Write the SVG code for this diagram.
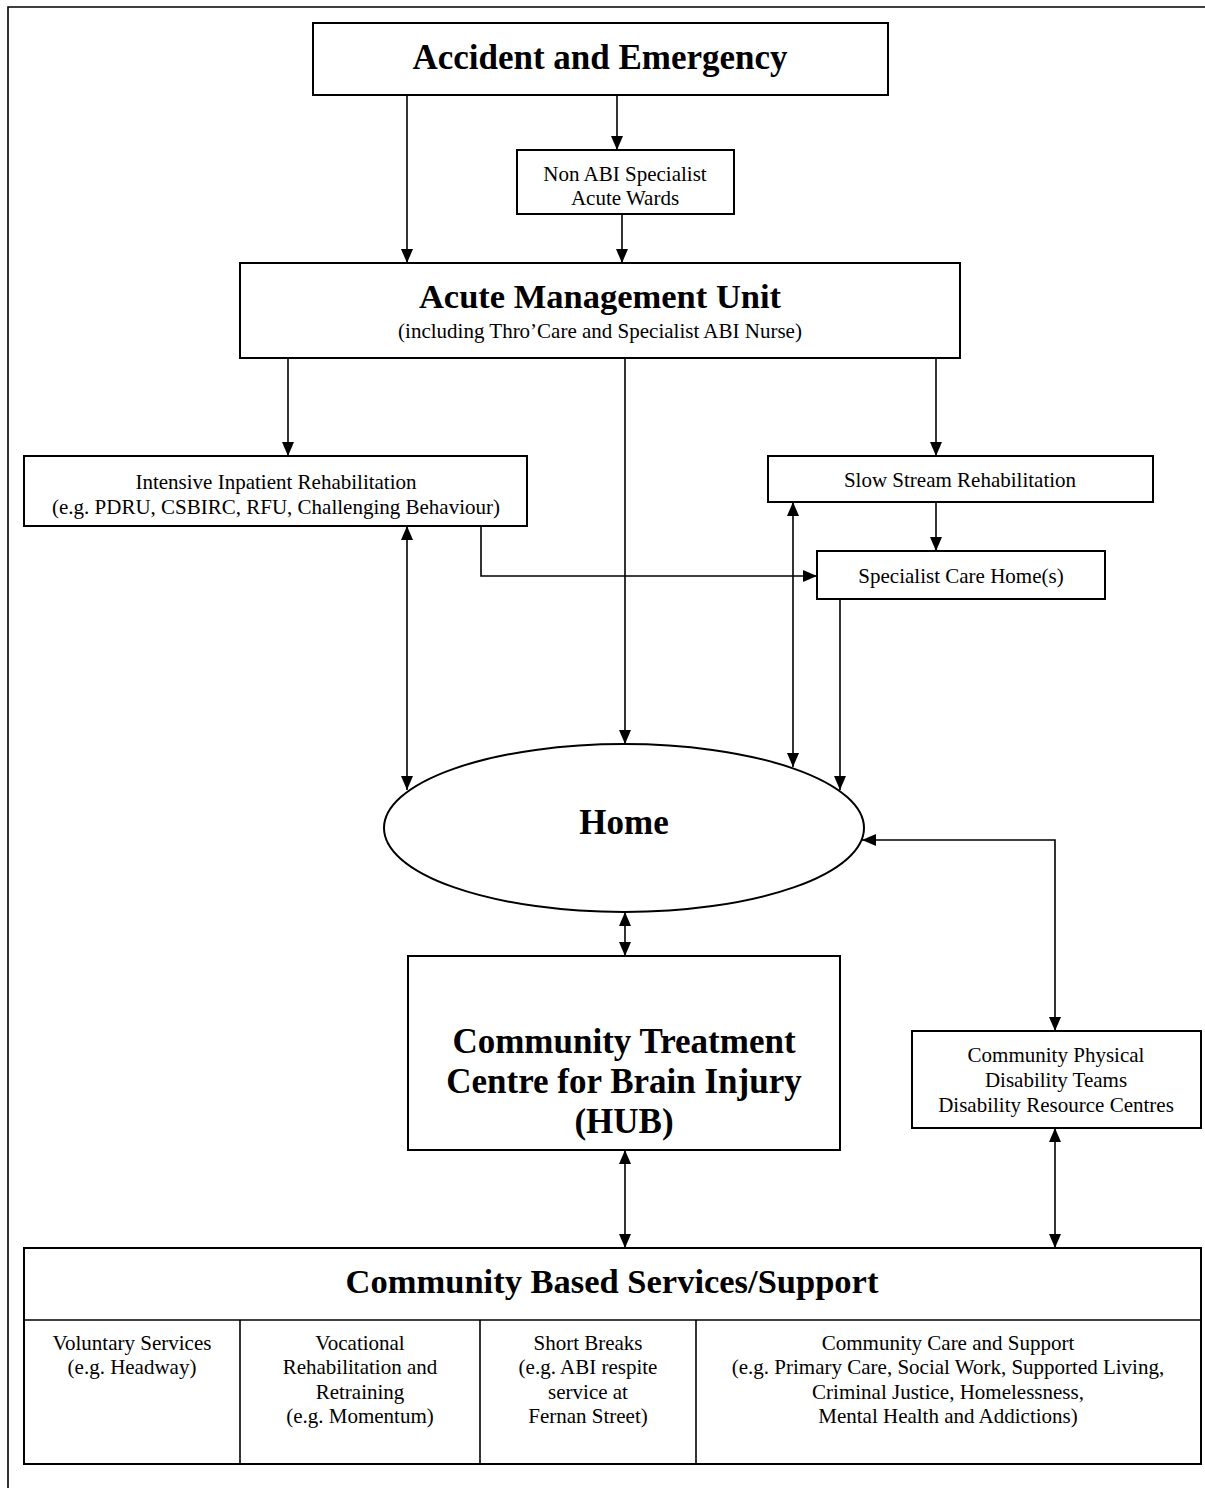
<svg xmlns="http://www.w3.org/2000/svg" width="1205" height="1488" viewBox="0 0 1205 1488">
<style>
.box{fill:#fff;stroke:#000;stroke-width:2}
.ln{fill:none;stroke:#000;stroke-width:1.6}
.big{font-family:"Liberation Serif","Times New Roman",serif;font-weight:bold;font-size:35px;text-anchor:middle;fill:#000}
.mid{font-family:"Liberation Serif","Times New Roman",serif;font-weight:bold;font-size:34.5px;text-anchor:middle;fill:#000}
.sm{font-family:"Liberation Serif","Times New Roman",serif;font-size:21px;text-anchor:middle;fill:#000}
</style>
<defs>
<marker id="ah" viewBox="0 0 14 12" refX="14" refY="6" markerWidth="14" markerHeight="12" markerUnits="userSpaceOnUse" orient="auto-start-reverse">
<path d="M0,0 L14,6 L0,12 Z" fill="#000"/>
</marker>
</defs>
<rect width="1205" height="1488" fill="#fff"/>
<g id="frame">
<path class="ln" d="M8,1488 V7 H1205" stroke-width="2"/>
</g>
<g id="connectors">
<line class="ln" x1="407" y1="95" x2="407" y2="263" marker-end="url(#ah)"/>
<line class="ln" x1="617" y1="95" x2="617" y2="150" marker-end="url(#ah)"/>
<line class="ln" x1="622" y1="214" x2="622" y2="263" marker-end="url(#ah)"/>
<line class="ln" x1="288" y1="358" x2="288" y2="456" marker-end="url(#ah)"/>
<line class="ln" x1="625" y1="358" x2="625" y2="744" marker-end="url(#ah)"/>
<line class="ln" x1="936" y1="358" x2="936" y2="456" marker-end="url(#ah)"/>
<line class="ln" x1="936" y1="502" x2="936" y2="551" marker-end="url(#ah)"/>
<path class="ln" d="M481,526 V576 H817" marker-end="url(#ah)"/>
<line class="ln" x1="407" y1="526" x2="407" y2="790" marker-start="url(#ah)" marker-end="url(#ah)"/>
<line class="ln" x1="793" y1="502" x2="793" y2="767" marker-start="url(#ah)" marker-end="url(#ah)"/>
<line class="ln" x1="840" y1="599" x2="840" y2="790" marker-end="url(#ah)"/>
<path class="ln" d="M862,840 H1055 V1031" marker-start="url(#ah)" marker-end="url(#ah)"/>
<line class="ln" x1="625" y1="912" x2="625" y2="956" marker-start="url(#ah)" marker-end="url(#ah)"/>
<line class="ln" x1="625" y1="1150" x2="625" y2="1248" marker-start="url(#ah)" marker-end="url(#ah)"/>
<line class="ln" x1="1055" y1="1128" x2="1055" y2="1248" marker-start="url(#ah)" marker-end="url(#ah)"/>
</g>
<g id="ae">
<rect class="box" x="313" y="23" width="575" height="72"/>
<text class="big" x="600" y="69">Accident and Emergency</text>
</g>
<g id="nonabi">
<rect class="box" x="517" y="150" width="217" height="64"/>
<text class="sm" x="625" y="181">Non ABI Specialist</text>
<text class="sm" x="625" y="205">Acute Wards</text>
</g>
<g id="amu">
<rect class="box" x="240" y="263" width="720" height="95"/>
<text class="mid" x="600" y="308">Acute Management Unit</text>
<text class="sm" x="600" y="338">(including Thro’Care and Specialist ABI Nurse)</text>
</g>
<g id="intensive">
<rect class="box" x="24" y="456" width="503" height="70"/>
<text class="sm" x="276" y="489">Intensive Inpatient Rehabilitation</text>
<text class="sm" x="276" y="514">(e.g. PDRU, CSBIRC, RFU, Challenging Behaviour)</text>
</g>
<g id="slow">
<rect class="box" x="768" y="456" width="385" height="46"/>
<text class="sm" x="960" y="487">Slow Stream Rehabilitation</text>
</g>
<g id="carehome">
<rect class="box" x="817" y="551" width="288" height="48"/>
<text class="sm" x="961" y="583">Specialist Care Home(s)</text>
</g>
<g id="home">
<ellipse class="box" cx="624" cy="828" rx="240" ry="84"/>
<text class="big" x="624" y="834">Home</text>
</g>
<g id="hub">
<rect class="box" x="408" y="956" width="432" height="194"/>
<text class="big" x="624" y="1053">Community Treatment</text>
<text class="big" x="624" y="1093">Centre for Brain Injury</text>
<text class="big" x="624" y="1133">(HUB)</text>
</g>
<g id="cpdt">
<rect class="box" x="912" y="1031" width="289" height="97"/>
<text class="sm" x="1056" y="1062">Community Physical</text>
<text class="sm" x="1056" y="1087">Disability Teams</text>
<text class="sm" x="1056" y="1112">Disability Resource Centres</text>
</g>
<g id="community">
<rect class="box" x="24" y="1248" width="1177" height="216"/>
<line class="ln" x1="24" y1="1320" x2="1201" y2="1320" stroke-width="2"/>
<line class="ln" x1="240" y1="1320" x2="240" y2="1464"/>
<line class="ln" x1="480" y1="1320" x2="480" y2="1464"/>
<line class="ln" x1="696" y1="1320" x2="696" y2="1464"/>
<text class="mid" x="612" y="1293">Community Based Services/Support</text>
<text class="sm" x="132" y="1350">Voluntary Services</text>
<text class="sm" x="132" y="1374">(e.g. Headway)</text>
<text class="sm" x="360" y="1350">Vocational</text>
<text class="sm" x="360" y="1374">Rehabilitation and</text>
<text class="sm" x="360" y="1399">Retraining</text>
<text class="sm" x="360" y="1423">(e.g. Momentum)</text>
<text class="sm" x="588" y="1350">Short Breaks</text>
<text class="sm" x="588" y="1374">(e.g. ABI respite</text>
<text class="sm" x="588" y="1399">service at</text>
<text class="sm" x="588" y="1423">Fernan Street)</text>
<text class="sm" x="948" y="1350">Community Care and Support</text>
<text class="sm" x="948" y="1374">(e.g. Primary Care, Social Work, Supported Living,</text>
<text class="sm" x="948" y="1399">Criminal Justice, Homelessness,</text>
<text class="sm" x="948" y="1423">Mental Health and Addictions)</text>
</g>
</svg>
